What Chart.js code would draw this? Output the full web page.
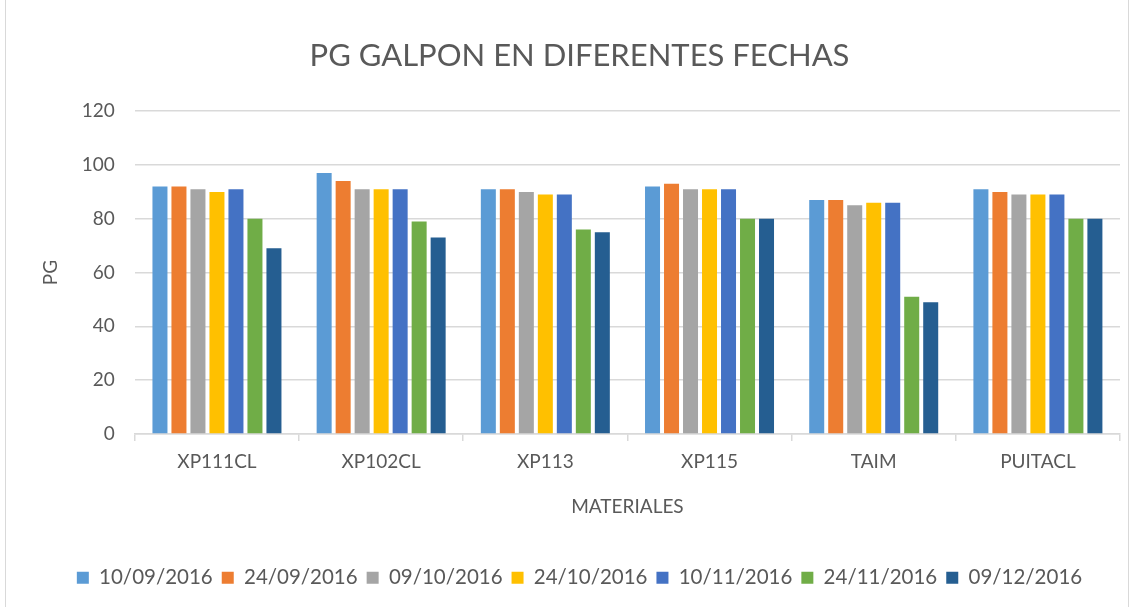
<!DOCTYPE html>
<html>
<head>
<meta charset="utf-8">
<script src="https://cdn.jsdelivr.net/npm/chart.js@4"></script>
<style>
  html, body { margin: 0; padding: 0; background: #fff; }
  #wrap { width: 1133px; height: 607px; position: relative; }
  #frame { position: absolute; left: 5px; top: 0; width: 1122px; height: 607px; border-left: 1px solid #d9d9d9; border-right: 1px solid #d9d9d9; pointer-events: none; }
</style>
</head>
<body>
<div id="wrap"><canvas id="chart"></canvas><div id="frame"></div></div>
<script>
// categories and dates
const materiales = ['XP111CL', 'XP102CL', 'XP113', 'XP115', 'TAIM', 'PUITACL'];
const fechas = ['10/09/2016', '24/09/2016', '09/10/2016', '24/10/2016', '10/11/2016', '24/11/2016', '09/12/2016'];

// PG values per date, one entry per material
const pg_10_09 = [92, 97, 91, 92, 87, 91];
const pg_24_09 = [92, 94, 91, 93, 87, 90];
const pg_09_10 = [91, 91, 90, 91, 85, 89];
const pg_24_10 = [90, 91, 89, 91, 86, 89];
const pg_10_11 = [91, 91, 89, 91, 86, 89];
const pg_24_11 = [80, 79, 76, 80, 51, 80];
const pg_09_12 = [69, 73, 75, 80, 49, 80];

const seriesValues = [pg_10_09, pg_24_09, pg_09_10, pg_24_10, pg_10_11, pg_24_11, pg_09_12];
const colores = ['#5B9BD5', '#ED7D31', '#A5A5A5', '#FFC000', '#4472C4', '#70AD47', '#255E91'];

const yTicks = [0, 20, 40, 60, 80, 100, 120];

const textColor = '#595959';
const fontFamily = 'Lato, "Noto Sans", sans-serif';

const datasets = fechas.map((f, i) => ({
    label: f,
    data: seriesValues[i],
    backgroundColor: colores[i],
    borderWidth: 0,
    barPercentage: 0.79,
    categoryPercentage: 0.81
}));

new Chart(document.getElementById('chart'), {
    type: 'bar',
    data: { labels: materiales, datasets: datasets },
    options: {
        responsive: true,
        maintainAspectRatio: false,
        animation: false,
        layout: { padding: { left: 39, right: 13, top: 24, bottom: 9 } },
        plugins: {
            title: {
                display: true,
                text: 'PG GALPON EN DIFERENTES FECHAS',
                color: textColor,
                font: { family: fontFamily, size: 31, weight: 'normal' },
                padding: { top: 13, bottom: 37 }
            },
            legend: {
                position: 'bottom',
                labels: {
                    color: textColor,
                    font: { family: fontFamily, size: 20.5 },
                    boxWidth: 12,
                    boxHeight: 12,
                    padding: 9
                }
            },
            tooltip: { enabled: false }
        },
        scales: {
            x: {
                grid: {
                    offset: true,
                    drawOnChartArea: false,
                    color: '#d9d9d9',
                    lineWidth: 1.5,
                    tickLength: 7
                },
                border: { color: '#d9d9d9', width: 1.5 },
                ticks: {
                    color: textColor,
                    font: { family: fontFamily, size: 19 },
                    padding: 10
                },
                title: {
                    display: true,
                    text: 'MATERIALES',
                    color: textColor,
                    font: { family: fontFamily, size: 19 },
                    padding: { top: 12, bottom: 40 }
                }
            },
            y: {
                min: 0,
                max: 120,
                afterBuildTicks: (axis) => { axis.ticks = yTicks.map(v => ({ value: v })); },
                grid: { color: '#d9d9d9', lineWidth: 1.5, drawTicks: false },
                border: { display: false },
                ticks: {
                    color: textColor,
                    font: { family: fontFamily, size: 19 },
                    padding: 20
                },
                title: {
                    display: true,
                    text: 'PG',
                    color: textColor,
                    font: { family: fontFamily, size: 19 },
                    padding: { top: 0, bottom: 0 }
                }
            }
        }
    }
});
</script>
</body>
</html>
